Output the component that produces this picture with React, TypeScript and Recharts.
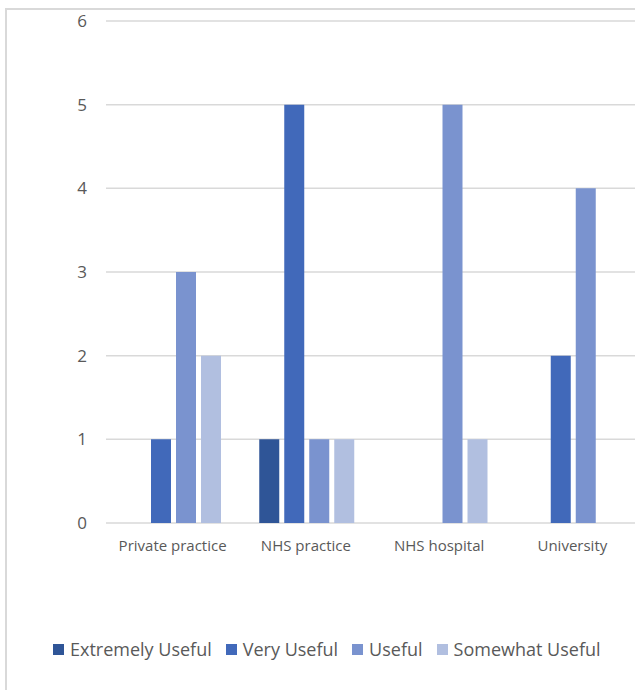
import React from 'react';
import { BarChart, Bar, XAxis, YAxis, CartesianGrid, Legend } from 'recharts';

const categories = ['Private practice', 'NHS practice', 'NHS hospital', 'University'];
const extremelyUseful = [0, 1, 0, 0];
const veryUseful = [1, 5, 0, 2];
const useful = [3, 1, 5, 4];
const somewhatUseful = [2, 1, 1, 0];
const yTicks = [0, 1, 2, 3, 4, 5, 6];

const SERIES = [
  { key: 'extremely', name: 'Extremely Useful', values: extremelyUseful, color: '#2F5597' },
  { key: 'very', name: 'Very Useful', values: veryUseful, color: '#4169BA' },
  { key: 'useful', name: 'Useful', values: useful, color: '#7A93CF' },
  { key: 'somewhat', name: 'Somewhat Useful', values: somewhatUseful, color: '#B1BFE0' }
];

const data = categories.map((name, i) => {
  const row: Record<string, any> = { name };
  SERIES.forEach(s => { row[s.key] = s.values[i]; });
  return row;
});

const FONT = '"Open Sans", sans-serif';
const TEXT = '#595959';

// keep the series order (recharts sorts legend items by name otherwise)
const renderLegend = () => (
  <div style={{ display: 'flex', alignItems: 'center', fontFamily: FONT, fontSize: 18, color: TEXT, whiteSpace: 'nowrap' }}>
    {SERIES.map(s => (
      <div key={`leg-${s.key}`} style={{ display: 'flex', alignItems: 'center', marginRight: 14 }}>
        <span style={{ width: 11, height: 11, background: s.color, display: 'inline-block', marginRight: 6 }} />
        <span>{s.name}</span>
      </div>
    ))}
  </div>
);

export default function App() {
  return (
    <div style={{ position: 'absolute', left: 0, top: 0, width: 635, height: 690, overflow: 'hidden', background: '#fff' }}>
      <div style={{ position: 'absolute', left: 5, top: 8, width: 700, height: 720, border: '2px solid #d9d9d9' }} />
      <div style={{ position: 'absolute', left: 0, top: 0 }}>
        <BarChart
          width={660}
          height={690}
          data={data}
          margin={{ top: 21, right: 21, left: 0, bottom: 137 }}
          barGap={5}
          barCategoryGap={20}
        >
          <CartesianGrid horizontal vertical={false} stroke="#d9d9d9" strokeWidth={1.5} />
          <XAxis
            dataKey="name"
            height={30}
            axisLine={false}
            tickLine={false}
            tickSize={0}
            tickMargin={17}
            tick={{ fill: TEXT, fontSize: 15, fontFamily: FONT }}
            interval={0}
          />
          <YAxis
            width={106}
            domain={[0, 6]}
            ticks={yTicks}
            axisLine={false}
            tickLine={false}
            tickSize={0}
            tickMargin={19}
            tick={{ fill: TEXT, fontSize: 17, fontFamily: FONT }}
          />
          {SERIES.map(s => (
            <Bar key={s.key} dataKey={s.key} name={s.name} fill={s.color} isAnimationActive={false} />
          ))}
          <Legend
            verticalAlign="middle"
            align="center"
            content={renderLegend}
            wrapperStyle={{ top: 637, left: 53, width: 'auto' }}
          />
        </BarChart>
      </div>
    </div>
  );
}
